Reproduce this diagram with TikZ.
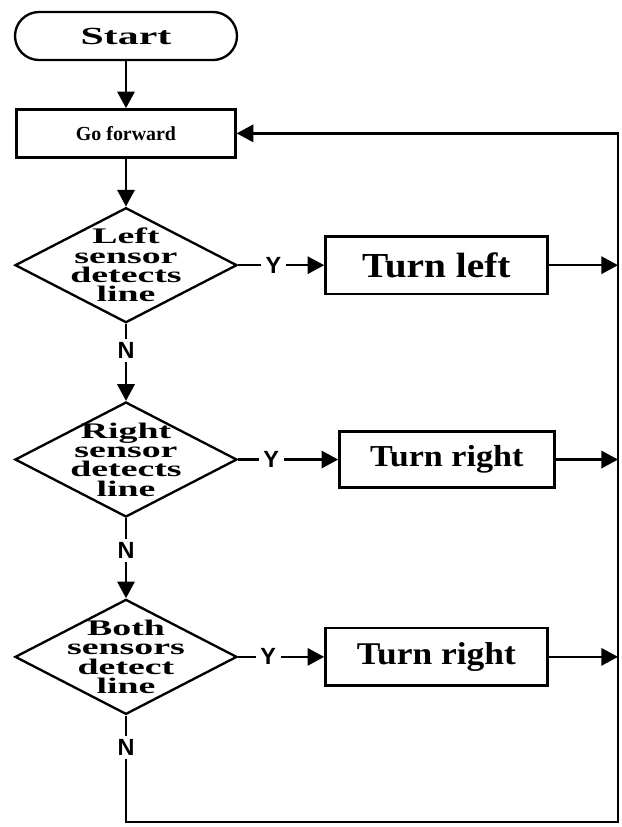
\documentclass[tikz,border=0pt]{standalone}
\usepackage{fontspec}
\setmainfont{Liberation Serif}
\setsansfont{Liberation Sans}
\newfontfamily\widefont[FakeStretch=1.7]{Liberation Serif}
\newfontfamily\broadfont[FakeStretch=1.12]{Liberation Serif}
\usepackage{tikz}
\usetikzlibrary{positioning, arrows.meta, shapes.geometric}

\begin{document}
\begin{tikzpicture}[
        node distance=1.4cm and 2.6cm,
        line width=2pt,
        terminal/.style={draw, rounded corners=0.72cm, minimum width=6.66cm, minimum height=1.44cm, inner sep=0pt, font=\widefont\bfseries\fontsize{21}{24}\selectfont},
        box/.style={draw, minimum width=6.57cm, minimum height=1.44cm, inner sep=0pt, font=\bfseries\fontsize{17}{20}\selectfont},
        decision/.style={draw, diamond, minimum width=6.66cm, minimum height=3.45cm, inner sep=0pt},
        dtext/.style={align=center, inner sep=0pt, font=\widefont\bfseries\fontsize{19}{16.5}\selectfont},
        action/.style={draw, minimum width=6.66cm, minimum height=1.72cm, inner sep=0pt, font=\broadfont\bfseries\fontsize{30}{32}\selectfont},
        arrow/.style={-{Triangle[length=0.5cm, width=0.52cm]}, draw=black},
        yn/.style={fill=white, inner xsep=4pt, inner ysep=3pt, font=\sffamily\bfseries\fontsize{20}{22}\selectfont}
    ]
    \useasboundingbox (0,0) rectangle (18.66,-24.81);

    \node[terminal] (start) at (3.78,-1.08) {Start};
    \node[box, below=1.41cm of start] (go) {Go forward};

    \node[decision, below=1.44cm of go] (left) {};
    \node[dtext] (lefttxt) at (left) {Left\\sensor\\detects\\line};
    \node[decision, below=2.31cm of left] (right) {};
    \node[dtext] (righttxt) at (right) {Right\\sensor\\detects\\line};
    \node[decision, below=2.4cm of right] (both) {};
    \node[dtext] (bothtxt) at (both) {Both\\sensors\\detect\\line};

    \node[action, right=2.58cm of left] (turnl) {Turn left};
    \node[action, right=3cm of right, minimum width=6.45cm, minimum height=1.68cm, font=\broadfont\bfseries\fontsize{26}{30}\selectfont] (turnr) {Turn right};
    \node[action, right=2.58cm of both, font=\broadfont\bfseries\fontsize{27}{30}\selectfont] (turnrr) {Turn right};

    \coordinate (corner) at (18.54,-24.66);

    \draw[arrow] (start) -- (go);
    \draw[arrow] (go) -- (left);
    \draw[arrow] (left) -- node[yn, pos=0.35] {N} (right);
    \draw[arrow] (right) -- node[yn, pos=0.4] {N} (both);

    \draw[arrow] (left) -- node[yn, pos=0.41] {Y} (turnl);
    \draw[arrow] (right) -- node[yn, pos=0.33] {Y} (turnr);
    \draw[arrow] (both) -- node[yn, pos=0.35] {Y} (turnrr);

    \draw[arrow] (turnl) -- (turnl -| corner);
    \draw[arrow] (turnr) -- (turnr -| corner);
    \draw[arrow] (turnrr) -- (turnrr -| corner);

    \draw[arrow] (both) -- node[yn, pos=0.3] {N} (both |- corner) -- (corner) |- (go);
\end{tikzpicture}
\end{document}
